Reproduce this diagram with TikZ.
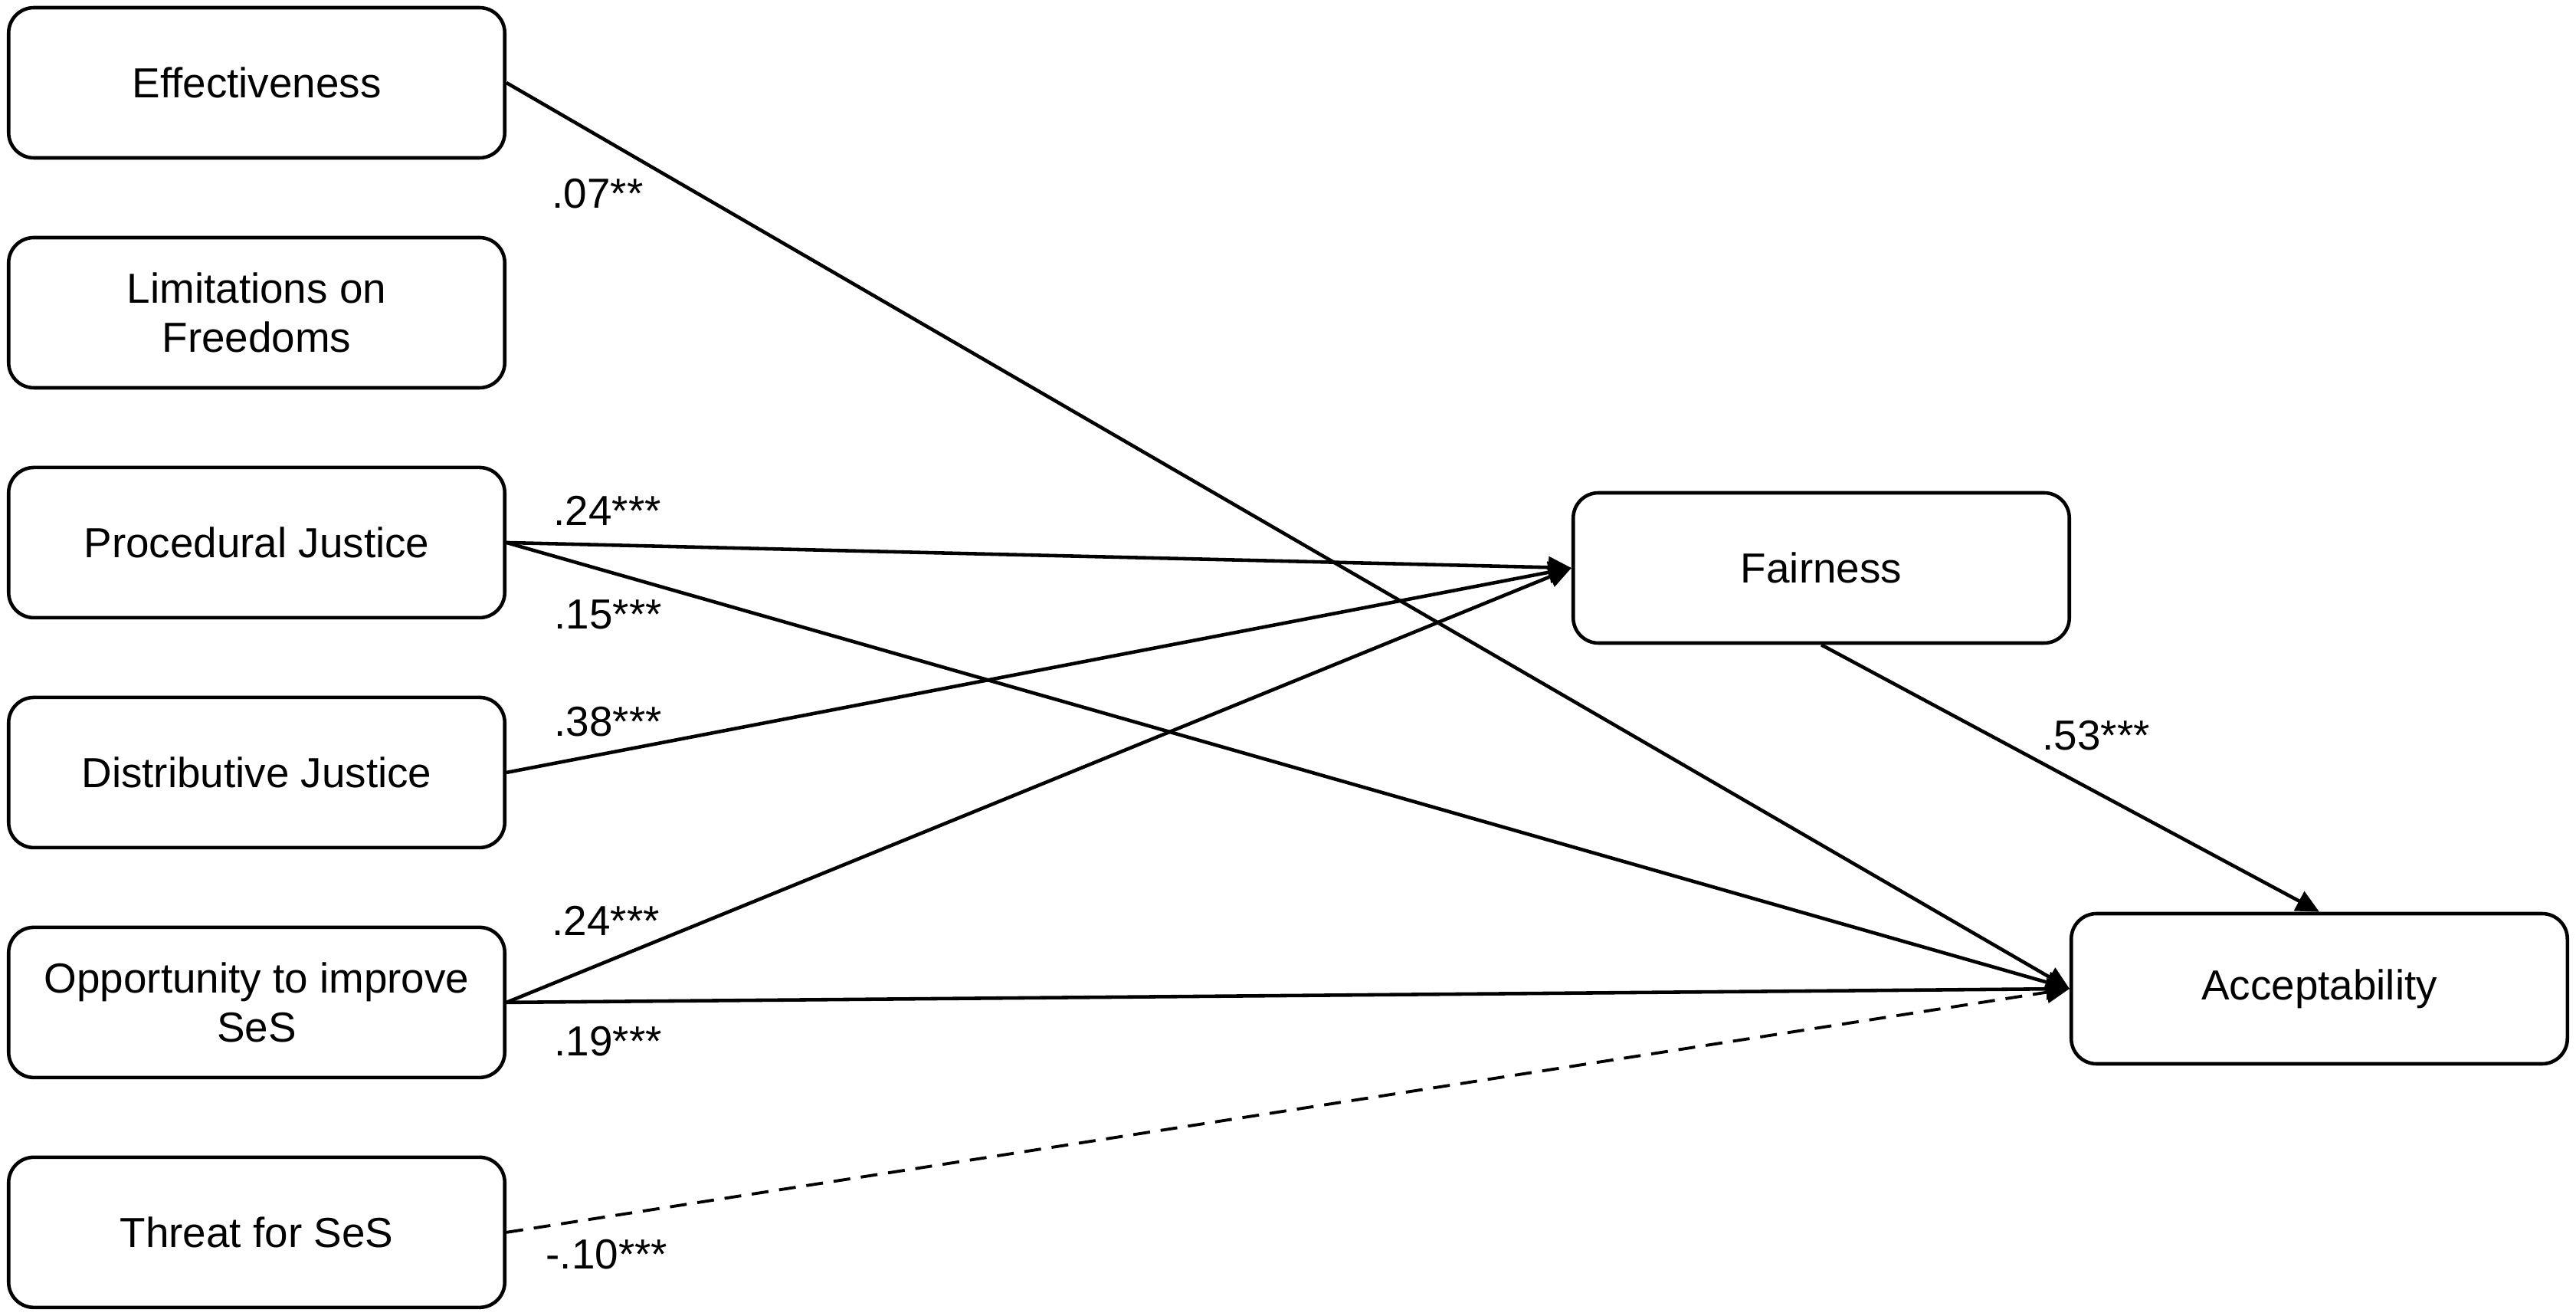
\documentclass[tikz,border=0pt]{standalone}
\usepackage{fontspec}
\setmainfont{Liberation Sans}
\usepackage{tikz}
\usetikzlibrary{arrows.meta,positioning}
\tikzset{varbox/.style={draw,rectangle,rounded corners=3.3mm,line width=1.3pt,
        minimum width=6.475cm,minimum height=1.96cm,align=center,inner sep=2pt},
    coeff/.style={anchor=base west,inner sep=0},
    pathline/.style={line width=1.3pt,-{Triangle[length=3mm,width=2.8mm]}},
    negline/.style={pathline,line width=1.1pt,dash pattern=on 2.2mm off 1.4mm}
}

\begin{document}
\begin{tikzpicture}[font=\fontsize{15.6}{18.4}\selectfont,node distance=0.994cm]

\useasboundingbox (0,0) rectangle (33.62,17.16);

\node (p 1) [varbox] at (3.35,16.08) {Effectiveness};
\node (p 2) [varbox,below=of p 1] {Limitations on\\Freedoms};
\node (p 3) [varbox,below=of p 2] {Procedural Justice};
\node (p 4) [varbox,below=of p 3] {Distributive Justice};
\node (p 5) [varbox,below=of p 4] {Opportunity to improve\\SeS};
\node (p 6) [varbox,below=of p 5] {Threat for SeS};

\node (fair) [varbox] at (23.77,9.75) {Fairness};
\node (accept) [varbox] at (30.27,4.26) {Acceptability};

\draw [pathline] (p 1.east) -- (accept.west);
\draw [pathline] (p 3.east) -- (fair.west);
\draw [pathline] (p 3.east) -- (accept.west);
\draw [pathline] (p 4.east) -- (fair.west);
\draw [pathline] (p 5.east) -- (fair.west);
\draw [pathline] (p 5.east) -- (accept.west);
\draw [negline] (p 6.east) -- (accept.west);
\draw [pathline] (fair.south) -- (accept.north);

\node (c 1) [coeff] at (7.20,14.44) {.07**};
\node (c 2) [coeff] at (7.22,10.31) {.24***};
\node (c 3) [coeff] at (7.23,8.96) {.15***};
\node (c 4) [coeff] at (7.23,7.56) {.38***};
\node (c 5) [coeff] at (7.20,4.96) {.24***};
\node (c 6) [coeff] at (7.23,3.39) {.19***};
\node (c 7) [coeff] at (7.12,0.61) {-.10***};
\node (c 8) [coeff] at (26.65,7.38) {.53***};

\end{tikzpicture}
\end{document}
